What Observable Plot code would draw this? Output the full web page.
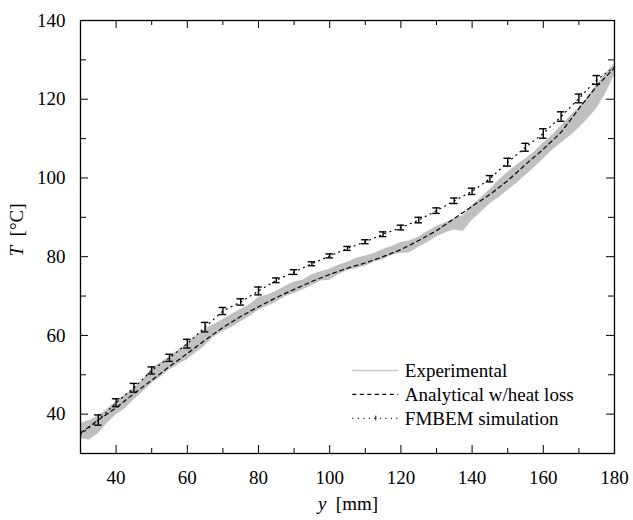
<!DOCTYPE html>
<html><head><meta charset="utf-8">
<script src="https://cdn.jsdelivr.net/npm/d3@7"></script>
<script src="https://cdn.jsdelivr.net/npm/@observablehq/plot@0.6"></script>
<style>body{margin:0;background:#fff}</style>
</head><body><div id="chart"></div>
<script>
// ---- data ----
const expX    = [30,32.5,35,37.5,40,42.5,45,47.5,50,52.5,55,57.5,60,62.5,65,67.5,70,72.5,75,77.5,80,82.5,85,87.5,90,92.5,95,97.5,100,102.5,105,107.5,110,112.5,115,117.5,120,122.5,125,127.5,130,132.5,135,137.5,140,142.5,145,147.5,150,152.5,155,157.5,160,162.5,165,167.5,170,172.5,175,177.5,180];
const expLow  = [33.8,33.4,35.0,37.6,39.8,41.4,43.6,45.6,47.8,49.4,51.2,52.6,53.8,55.6,57.4,59.6,61.0,62.0,63.4,64.8,66.4,67.4,68.4,69.8,70.6,71.6,72.6,73.8,74.0,75.4,76.4,77.0,77.6,78.6,79.2,80.4,80.8,81.0,82.4,83.6,85.0,86.0,86.8,86.4,89.2,91.2,93.4,95.0,96.8,98.6,100.6,102.6,104.8,107.0,108.8,110.6,112.6,115.0,117.6,121.4,126.0];
const expHigh = [37.6,38.4,39.5,41.2,43.2,44.8,46.6,48.6,51.6,53.0,54.6,56.2,58.0,59.8,61.6,62.8,64.0,65.4,66.6,67.8,69.6,70.2,71.2,72.4,73.6,74.0,75.4,76.2,76.8,77.8,78.6,79.6,80.2,80.8,81.8,82.6,83.6,84.0,85.0,86.4,87.6,88.6,89.6,90.4,93.0,95.0,97.0,99.4,101.4,103.2,104.8,106.6,108.8,110.8,113.2,115.6,117.8,120.6,123.6,126.4,129.0];

const anaX = [30,35,40,45,50,55,60,65,70,75,80,85,90,95,100,105,110,115,120,125,130,135,140,145,150,155,160,165,170,175,180];
const anaT = [35.2,38.5,41.6,45.2,48.6,52.1,55.4,58.8,62.0,64.8,67.3,69.6,71.7,73.7,75.5,77.1,78.4,80.0,81.8,84.1,86.6,89.7,92.8,95.8,99.3,103.4,107.3,111.6,117.6,123.3,128.0];

const fmX   = [35,40,45,50,55,60,65,70,75,80,85,90,95,100,105,110,115,120,125,130,135,140,145,150,155,160,165,170,175];
const fmT   = [38.5,42.9,46.7,51.1,54.3,57.9,62.1,66.2,68.5,71.3,74.0,76.1,78.2,80.2,82.1,83.8,85.7,87.4,89.3,91.7,94.2,96.6,99.8,104.0,107.8,111.3,115.6,120.2,124.9];
const fmErr = [1.3,1.0,1.1,0.9,0.9,1.1,1.2,0.9,0.8,1.0,0.6,0.6,0.5,0.5,0.5,0.5,0.6,0.6,0.7,0.7,0.7,0.8,0.8,1.0,1.0,1.2,1.2,1.1,1.1];
const fmLineX = [30,35,40,45,50,55,60,65,70,75,80,85,90,95,100,105,110,115,120,125,130,135,140,145,150,155,160,165,170,175,180];
const fmLineT = [34.8,38.5,42.9,46.7,51.1,54.3,57.9,62.1,66.2,68.5,71.3,74.0,76.1,78.2,80.2,82.1,83.8,85.7,87.4,89.3,91.7,94.2,96.6,99.8,104.0,107.8,111.3,115.6,120.2,124.9,128.2];

const xLabels = [40,60,80,100,120,140,160,180];
const xMinor  = [30,50,70,90,110,130,150,170];
const yLabels = [40,60,80,100,120,140];
const yMinor  = [30,50,70,90,110,130];
const legendNames = ["Experimental","Analytical w/heat loss","FMBEM simulation"];

// ---- layout ----
const W=633, H=520, mL=80, mR=19, mT=20, mB=67;
const iW=W-mL-mR, iH=H-mT-mB;
const FONT = "'Liberation Serif','Times New Roman',serif";

const expData = expX.map((x,i)=>({x, lo:expLow[i], hi:expHigh[i]}));
const anaData = anaX.map((x,i)=>({x, t:anaT[i]}));
const fmData  = fmX.map((x,i)=>({x, t:fmT[i], e:fmErr[i]}));
const fmLine  = fmLineX.map((x,i)=>({x, t:fmLineT[i]}));

// legend placement in data space
const lgX1=106.5, lgX2=119.4, lgTx=121.1;
const lgRows = [51.1, 45.0, 38.9];
const capW = 1.05;

const plot = Plot.plot({
  width:W, height:H, marginLeft:mL, marginRight:mR, marginTop:mT, marginBottom:mB,
  style:{fontFamily:FONT, fontSize:"19px", background:"#fff", color:"#000"},
  x:{domain:[30,180]},
  y:{domain:[30,140]},
  marks:[
    Plot.areaY(expData,{x:"x", y1:"lo", y2:"hi", fill:"#c0c0c0"}),
    Plot.line(anaData,{x:"x", y:"t", stroke:"#000", strokeWidth:1.2, strokeDasharray:"4,3.5"}),
    Plot.line(fmLine,{x:"x", y:"t", stroke:"#000", strokeWidth:1.2, strokeDasharray:"1,4.5"}),
    Plot.ruleX(fmData,{x:"x", y1:d=>d.t-d.e, y2:d=>d.t+d.e, stroke:"#000", strokeWidth:1.4}),
    Plot.ruleY(fmData,{y:d=>d.t+d.e, x1:d=>d.x-capW, x2:d=>d.x+capW, stroke:"#000", strokeWidth:1.4}),
    Plot.ruleY(fmData,{y:d=>d.t-d.e, x1:d=>d.x-capW, x2:d=>d.x+capW, stroke:"#000", strokeWidth:1.4}),
    // ticks (inward, all four sides)
    Plot.tickX(xLabels,{x:d=>d, insetTop:iH-8, stroke:"#000"}),
    Plot.tickX(xLabels,{x:d=>d, insetBottom:iH-8, stroke:"#000"}),
    Plot.tickX(xMinor,{x:d=>d, insetTop:iH-5, stroke:"#000"}),
    Plot.tickX(xMinor,{x:d=>d, insetBottom:iH-5, stroke:"#000"}),
    Plot.tickY(yLabels,{y:d=>d, insetRight:iW-8, stroke:"#000"}),
    Plot.tickY(yLabels,{y:d=>d, insetLeft:iW-8, stroke:"#000"}),
    Plot.tickY(yMinor,{y:d=>d, insetRight:iW-6, stroke:"#000"}),
    Plot.tickY(yMinor,{y:d=>d, insetLeft:iW-6, stroke:"#000"}),
    Plot.frame({stroke:"#000", strokeWidth:1.3}),
    Plot.axisX(xLabels,{tickSize:0, tickPadding:17, label:null, fontSize:19}),
    Plot.axisY(yLabels,{tickSize:0, tickPadding:15, label:null, fontSize:19}),
    // legend
    Plot.ruleY([lgRows[0]],{y:d=>d, x1:lgX1, x2:lgX2, stroke:"#c8c8c8", strokeWidth:1.4}),
    Plot.ruleY([lgRows[1]],{y:d=>d, x1:lgX1, x2:lgX2, stroke:"#000", strokeWidth:1.2, strokeDasharray:"4,3.5"}),
    Plot.ruleY([lgRows[2]],{y:d=>d, x1:lgX1, x2:lgX2, stroke:"#000", strokeWidth:1.2, strokeDasharray:"1,4.5"}),
    Plot.ruleX([ (lgX1+lgX2)/2 ],{x:d=>d, y1:lgRows[2]-0.6, y2:lgRows[2]+0.6, stroke:"#000", strokeWidth:1}),
    Plot.text(legendNames,{x:lgTx, y:(d,i)=>lgRows[i], text:d=>d, textAnchor:"start", lineAnchor:"middle", fontSize:19, fill:"#000"})
  ]
});

const svg = d3.select(plot);
svg.append("text")
  .attr("x", 348).attr("y", 510)
  .attr("text-anchor","middle")
  .attr("font-family", FONT).attr("font-size", 19)
  .style("white-space","pre")
  .call(t=>{ t.append("tspan").attr("font-style","italic").text("y"); t.append("tspan").text("  [mm]"); });
svg.append("text")
  .attr("transform","translate(23,230) rotate(-90)")
  .attr("text-anchor","middle")
  .attr("font-family", FONT).attr("font-size", 19)
  .style("white-space","pre")
  .call(t=>{ t.append("tspan").attr("font-style","italic").text("T"); t.append("tspan").text("  [°C]"); });

document.getElementById("chart").appendChild(plot);
</script>
</body></html>
